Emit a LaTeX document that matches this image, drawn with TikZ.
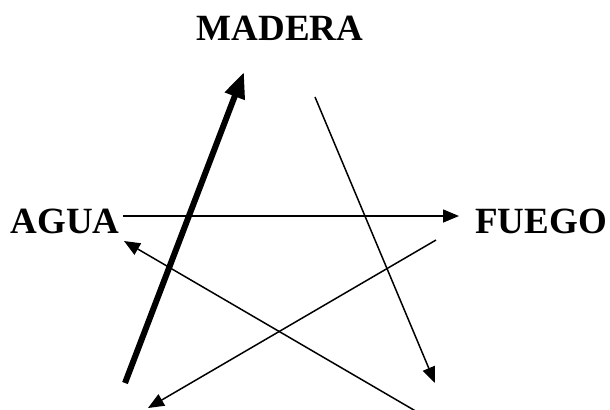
\documentclass[tikz,border=0pt]{standalone}
\usepackage{fontspec}
\setmainfont{Liberation Serif}
\usetikzlibrary{arrows.meta}
\begin{document}
\begin{tikzpicture}[x=0.5pt,y=-0.5pt,
  lbl/.style={font=\fontsize{18.5}{22}\selectfont\bfseries, anchor=base, inner sep=0pt},
  thinarrow/.style={line width=0.75pt, -{Triangle[length=8pt,width=6.5pt]}},
  thickarrow/.style={line width=3pt, -{Triangle[length=13pt,width=10pt]}}]
\useasboundingbox (0,0) rectangle (610,409);
\clip (0,0) rectangle (610,409);
\node[lbl] (madera) at (280,40) {MADERA};
\node[lbl] (agua) at (65,233) {AGUA};
\node[lbl] (fuego) at (541,233) {FUEGO};
\coordinate (t1s) at (125,383);
\coordinate (t1e) at (244,72);
\coordinate (a2s) at (315,97);
\coordinate (a2e) at (435,383);
\coordinate (a3s) at (123,216);
\coordinate (a3e) at (459,216);
\coordinate (a4s) at (436,240);
\coordinate (a4e) at (148,408);
\coordinate (a5s) at (419,413);
\coordinate (a5e) at (124,241);
\draw[thickarrow] (t1s) -- (t1e);
\draw[thinarrow] (a2s) -- (a2e);
\draw[thinarrow] (a3s) -- (a3e);
\draw[thinarrow] (a4s) -- (a4e);
\draw[thinarrow] (a5s) -- (a5e);
\end{tikzpicture}
\end{document}
